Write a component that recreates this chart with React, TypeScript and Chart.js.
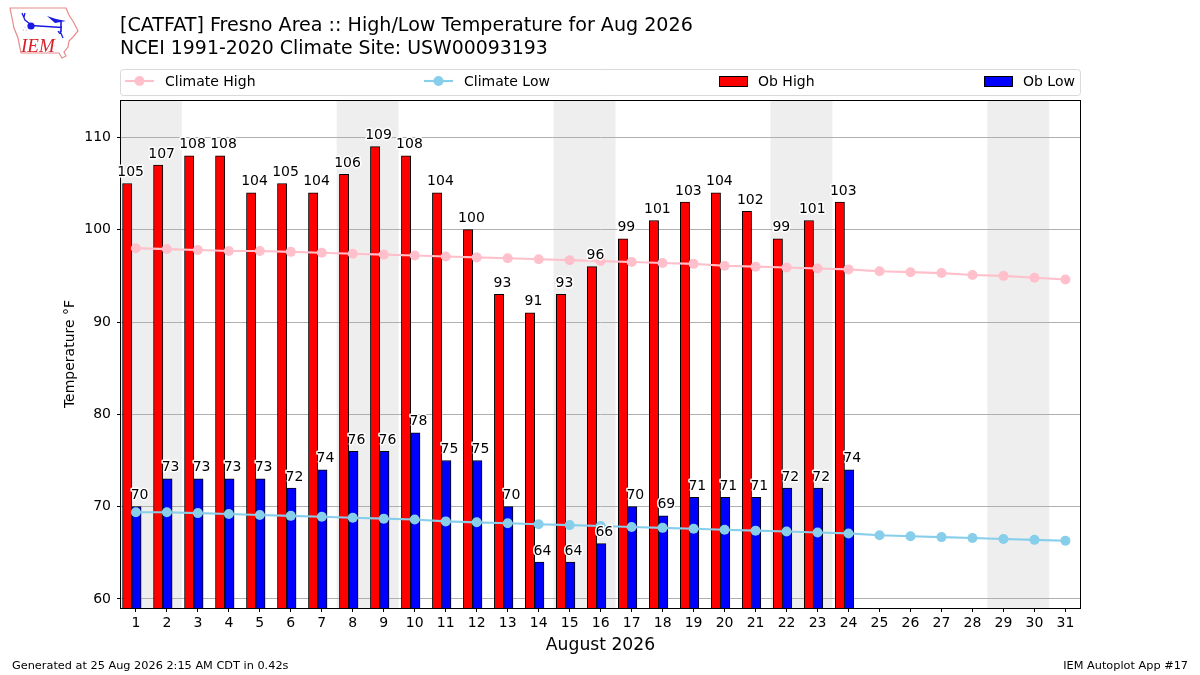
import { useEffect, useRef } from "react"
import { Chart, registerables } from "chart.js"

Chart.register(...registerables)

const FONT = '"DejaVu Sans"'

const days = [1, 2, 3, 4, 5, 6, 7, 8, 9, 10, 11, 12, 13, 14, 15, 16, 17, 18, 19, 20, 21, 22, 23, 24, 25, 26, 27, 28, 29, 30, 31]
const obHigh = [105, 107, 108, 108, 104, 105, 104, 106, 109, 108, 104, 100, 93, 91, 93, 96, 99, 101, 103, 104, 102, 99, 101, 103]
const obLow = [70, 73, 73, 73, 73, 72, 74, 76, 76, 78, 75, 75, 70, 64, 64, 66, 70, 69, 71, 71, 71, 72, 72, 74]
const climateHigh = [98.0, 97.9, 97.8, 97.7, 97.7, 97.6, 97.5, 97.4, 97.3, 97.2, 97.1, 97.0, 96.9, 96.8, 96.7, 96.6, 96.5, 96.4, 96.3, 96.1, 96.0, 95.9, 95.8, 95.7, 95.5, 95.4, 95.3, 95.1, 95.0, 94.8, 94.6]
const climateLow = [69.4, 69.4, 69.3, 69.2, 69.1, 69.0, 68.9, 68.8, 68.7, 68.6, 68.4, 68.3, 68.2, 68.1, 68.0, 67.9, 67.8, 67.7, 67.6, 67.5, 67.4, 67.3, 67.2, 67.1, 66.9, 66.8, 66.7, 66.6, 66.5, 66.4, 66.3]
const yTicks = [60, 70, 80, 90, 100, 110]
// weekend days are shaded, Aug 1 2026 is a Saturday
const weekends = [[1, 2], [8, 9], [15, 16], [22, 23], [29, 30]]

const titleLines = ["[CATFAT] Fresno Area :: High/Low Temperature for Aug 2026", "NCEI 1991-2020 Climate Site: USW00093193"]
const footerLeft = "Generated at 25 Aug 2026 2:15 AM CDT in 0.42s"
const footerRight = "IEM Autoplot App #17"

const backgroundPlugin = {
    id: "background",
    beforeDraw(chart: any) {
        const { ctx, chartArea, scales } = chart
        ctx.save()
        ctx.fillStyle = "#ffffff"
        ctx.fillRect(0, 0, chart.width, chart.height)
        ctx.fillStyle = "#eeeeee"
        weekends.forEach(([a, b]) => {
            const left = Math.max(scales.x.getPixelForValue(a - 0.52), chartArea.left)
            const right = Math.min(scales.x.getPixelForValue(b + 0.48), chartArea.right)
            ctx.fillRect(left, chartArea.top, right - left, chartArea.bottom - chartArea.top)
        })
        ctx.restore()
    },
}

const annotationPlugin = {
    id: "annotations",
    afterDraw(chart: any) {
        const { ctx, chartArea, scales } = chart
        ctx.save()

        // frame around the axes
        ctx.strokeStyle = "#000000"
        ctx.lineWidth = 1
        ctx.strokeRect(chartArea.left - 0.5, chartArea.top + 0.5, chartArea.right - chartArea.left + 1, chartArea.bottom - chartArea.top)

        // value labels with a white halo
        ctx.font = `14px ${FONT}`
        ctx.textAlign = "center"
        ctx.textBaseline = "alphabetic"
        ctx.lineJoin = "round"
        const label = (values: number[], shift: number) => {
            values.forEach((v, i) => {
                const x = scales.x.getPixelForValue(days[i] + shift)
                const y = scales.y.getPixelForValue(v) - 7.5
                ctx.strokeStyle = "#ffffff"
                ctx.lineWidth = 3
                ctx.strokeText(String(v), x, y)
                ctx.fillStyle = "#000000"
                ctx.fillText(String(v), x, y)
            })
        }
        label(obHigh, -0.17)
        label(obLow, 0.12)

        // legend box
        ctx.strokeStyle = "#d9d9d9"
        ctx.lineWidth = 1
        ctx.beginPath()
        ctx.roundRect(120.5, 69.5, 960, 26, 3)
        ctx.stroke()
        const items = [
            { ds: 0, x: 125, text: 165 },
            { ds: 1, x: 424, text: 464 },
            { ds: 2, x: 719, text: 758 },
            { ds: 3, x: 984, text: 1023 },
        ]
        ctx.textAlign = "left"
        ctx.textBaseline = "middle"
        items.forEach((item) => {
            const ds = chart.data.datasets[item.ds]
            if (ds.type === "line") {
                ctx.strokeStyle = ds.borderColor
                ctx.lineWidth = 2.1
                ctx.beginPath()
                ctx.moveTo(item.x, 81)
                ctx.lineTo(item.x + 29, 81)
                ctx.stroke()
                ctx.fillStyle = ds.borderColor
                ctx.beginPath()
                ctx.arc(item.x + 14.5, 81, 5, 0, Math.PI * 2)
                ctx.fill()
            } else {
                ctx.fillStyle = ds.backgroundColor
                ctx.fillRect(item.x, 76, 29, 11)
                ctx.strokeStyle = "#000000"
                ctx.lineWidth = 1
                ctx.strokeRect(item.x + 0.5, 76.5, 28, 10)
            }
            ctx.fillStyle = "#000000"
            ctx.fillText(ds.label, item.text, 82)
        })

        // titles and footers
        ctx.textBaseline = "alphabetic"
        ctx.font = `19.1px ${FONT}`
        ctx.fillText(titleLines[0], 120, 31)
        ctx.font = `18.9px ${FONT}`
        ctx.fillText(titleLines[1], 120, 54)
        ctx.font = `11.3px ${FONT}`
        ctx.fillText(footerLeft, 12, 669)
        ctx.textAlign = "right"
        ctx.fillText(footerRight, 1188, 669)
        ctx.restore()
    },
}

function Logo() {
    return (
        <svg width={90} height={64} style={{ position: "absolute", left: 0, top: 0 }}>
            <path d="M10 8 L66 8 L69 15 L74 23 L78 31 L73 37 L69 41 L68 47 L64 52 L66 56 L62 58 L59 53 L21 53 L18 38 L14 28 L12 18 Z" fill="#ffffff" stroke="#e88a8a" strokeWidth={1.2} />
            <path d="M31 25.5 L62 27.5 M61 21 L61 32" stroke="#1a1ae0" strokeWidth={1.6} fill="none" />
            <circle cx={31} cy={26} r={3.6} fill="#1a1ae0" />
            <path d="M47 16 L56 19 L66 21 L55 23 Z" fill="#1a1ae0" />
            <path d="M22 13 L25 20 L30 24 M25 13 L24 17 M60 31 L63 38 M58 31 L60 34" stroke="#1a1ae0" strokeWidth={1.3} fill="none" />
            <text x={23} y={31} fill="#4a4ae0" fontSize={6} fontFamily="DejaVu Sans">∴</text>
            <text x={21} y={52} fill="#d8202a" fontSize={19} fontStyle="italic" fontFamily="Liberation Serif">IEM</text>
        </svg>
    )
}

export default function App() {
    const canvasRef = useRef<HTMLCanvasElement>(null)

    useEffect(() => {
        const ctx = canvasRef.current
        if (!ctx) return

        const myChart = new Chart(ctx, {
            type: "bar",
            data: {
                datasets: [
                    {
                        type: "line",
                        label: "Climate High",
                        data: climateHigh.map((v, i) => ({ x: days[i], y: v })),
                        borderColor: "#ffc0cb",
                        backgroundColor: "#ffc0cb",
                        borderWidth: 2.1,
                        pointRadius: 5,
                        pointBorderWidth: 0,
                        pointBackgroundColor: "#ffc0cb",
                        tension: 0,
                        order: 1,
                    },
                    {
                        type: "line",
                        label: "Climate Low",
                        data: climateLow.map((v, i) => ({ x: days[i], y: v })),
                        borderColor: "#87ceeb",
                        backgroundColor: "#87ceeb",
                        borderWidth: 2.1,
                        pointRadius: 5,
                        pointBorderWidth: 0,
                        pointBackgroundColor: "#87ceeb",
                        tension: 0,
                        order: 0,
                    },
                    {
                        type: "bar",
                        label: "Ob High",
                        data: obHigh.map((v, i) => ({ x: days[i] - 0.28, y: v })),
                        backgroundColor: "#ff0000",
                        borderColor: "#000000",
                        borderWidth: 1,
                        barThickness: 9.3,
                        grouped: false,
                        order: 3,
                    },
                    {
                        type: "bar",
                        label: "Ob Low",
                        data: obLow.map((v, i) => ({ x: days[i] + 0.02, y: v })),
                        backgroundColor: "#0000ff",
                        borderColor: "#000000",
                        borderWidth: 1,
                        barThickness: 9.3,
                        grouped: false,
                        order: 2,
                    },
                ],
            },
            options: {
                animation: false,
                responsive: false,
                devicePixelRatio: 1,
                layout: { padding: { top: 100, right: 120, left: 0, bottom: 0 } },
                plugins: {
                    legend: { display: false },
                    title: { display: false },
                    tooltip: { enabled: false },
                },
                scales: {
                    x: {
                        type: "linear",
                        min: 0.52,
                        max: 31.47,
                        offset: false,
                        afterBuildTicks: (scale: any) => {
                            scale.ticks = days.map((d) => ({ value: d }))
                        },
                        afterFit: (scale: any) => {
                            scale.height = 67
                        },
                        grid: { drawOnChartArea: false, offset: false, tickColor: "#000000", tickLength: 4 },
                        border: { display: false },
                        ticks: {
                            autoSkip: false,
                            maxRotation: 0,
                            padding: 3,
                            color: "#000000",
                            font: { family: FONT, size: 14 },
                            callback: (v: any) => String(v),
                        },
                        title: {
                            display: true,
                            text: "August 2026",
                            color: "#000000",
                            font: { family: FONT, size: 17.2 },
                            padding: { top: 0, bottom: 19 },
                        },
                    },
                    y: {
                        min: 59.02,
                        max: 114.05,
                        afterBuildTicks: (scale: any) => {
                            scale.ticks = yTicks.map((v) => ({ value: v }))
                        },
                        afterFit: (scale: any) => {
                            scale.width = 121
                        },
                        grid: { color: "#b0b0b0", lineWidth: 1, tickColor: "#000000", tickLength: 4 },
                        border: { display: false },
                        ticks: {
                            padding: 6,
                            color: "#000000",
                            font: { family: FONT, size: 14 },
                            callback: (v: any) => String(v),
                        },
                        title: {
                            display: true,
                            text: "Temperature °F",
                            color: "#000000",
                            font: { family: FONT, size: 14 },
                            padding: { top: 62, bottom: 0 },
                        },
                    },
                },
            },
            plugins: [backgroundPlugin, annotationPlugin],
        } as any)

        return () => {
            myChart.destroy()
        }
    }, [])

    return (
        <div style={{ position: "absolute", left: 0, top: 0, width: 1200, height: 675 }}>
            <canvas ref={canvasRef} width={1200} height={675} style={{ display: "block" }}></canvas>
            <Logo />
        </div>
    )
}
